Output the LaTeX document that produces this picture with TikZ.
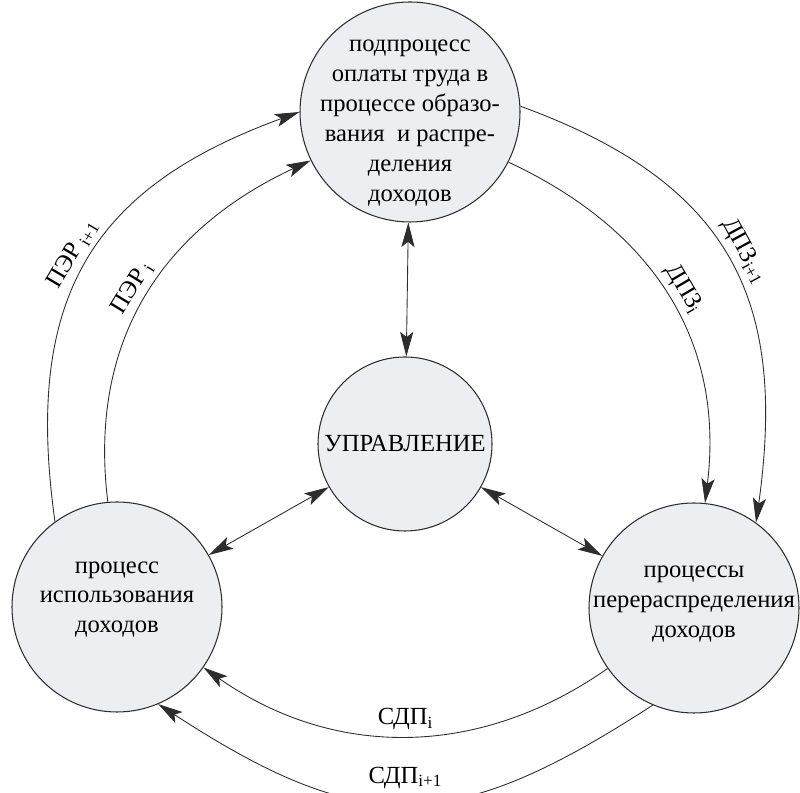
\documentclass[tikz,border=0pt]{standalone}
\usepackage{fontspec}
\setmainfont{Liberation Serif}
\usetikzlibrary{arrows.meta}

\definecolor{fond}{RGB}{237,238,241}
\definecolor{trait}{RGB}{45,45,45}

\begin{document}
\begin{tikzpicture}[
  >={Stealth[length=14pt,width=7.5pt,inset=3pt]},
  proc/.style={circle, draw=trait, fill=fond, line width=0.6pt, inner sep=0pt},
  txt/.style={align=center, font=\fontsize{14}{17}\selectfont},
  fl/.style={draw=trait, line width=0.5pt},
  lab/.style={font=\fontsize{14}{16}\selectfont, sloped, above},
  labb/.style={font=\fontsize{14}{16}\selectfont, above}
]
  \useasboundingbox (0,0) rectangle (16,15.86);

  % cercles
  \node[proc, minimum size=4.4cm] (P) at (8.2,13.62) {};
  \node[proc, minimum size=3.48cm] (U) at (8.1,6.98) {};
  \node[proc, minimum size=4.2cm] (I) at (2.34,3.72) {};
  \node[proc, minimum size=4.2cm] (R) at (13.88,3.70) {};

  \node[txt] (Ptxt) at ([yshift=-0.22cm]P) {подпроцесс\\оплаты труда в\\процессе образо-\\вания~ и распре-\\деления\\доходов};
  \node[txt] (Utxt) at (U) {УПРАВЛЕНИЕ};
  \node[txt] (Itxt) at ([yshift=0.15cm]I) {процесс\\использования\\доходов};
  \node[txt] (Rtxt) at ([yshift=0.08cm]R) {процессы\\перераспределения\\доходов};

  % управление
  \draw[fl, <->] (P) -- (U);
  \draw[fl, <->] (U) -- (I);
  \draw[fl, <->] (U) -- (R);

  % ПЭР
  \draw[fl, ->] (I.95) to[out=97, in=205, looseness=1.05]
    node[lab, pos=0.5] {ПЭР\,\textsubscript{i}} (P.206);
  \draw[fl, ->] (I.126) to[out=98, in=200, looseness=1.2]
    node[lab, pos=0.5] {ПЭР\,\textsubscript{i+1}} (P.180);

  % ДПЗ
  \draw[fl, ->] (P.333) to[out=335, in=83, looseness=1.05]
    node[lab, pos=0.5] {ДПЗ\textsubscript{i}} (R.84);
  \draw[fl, ->] (P.3) to[out=340, in=82, looseness=1.2]
    node[lab, pos=0.5] {ДПЗ\textsubscript{i+1}} (R.54);

  % СДП
  \draw[fl, ->] (R.215) to[out=215, in=325]
    node[labb, pos=0.5] {СДП\textsubscript{i}} (I.325);
  \draw[fl, ->] (R.247) to[out=213, in=327, looseness=1.25]
    node[labb, pos=0.5, yshift=5pt] {СДП\textsubscript{i+1}} (I.293);
\end{tikzpicture}
\end{document}
